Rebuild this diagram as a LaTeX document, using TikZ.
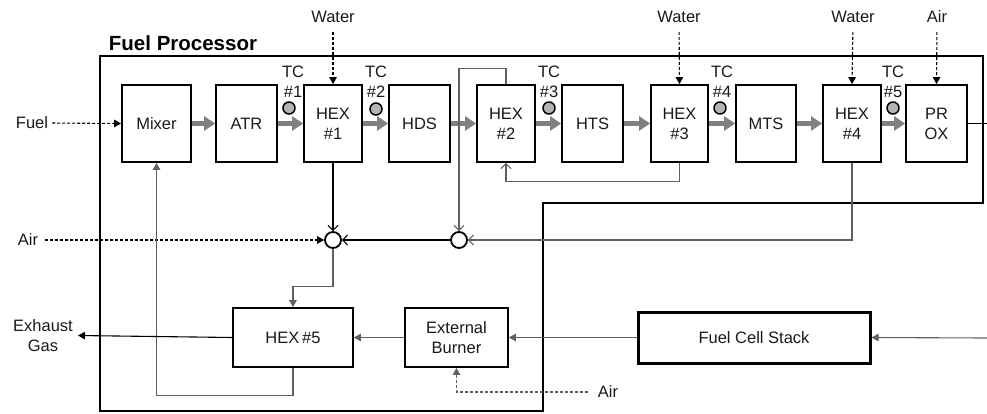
\documentclass[tikz,border=0pt]{standalone}
\usepackage{fontspec}
\setmainfont{Liberation Sans}
\usetikzlibrary{arrows.meta}
\definecolor{flowgray}{RGB}{128,128,128}
\definecolor{tcfill}{RGB}{180,180,180}
\definecolor{linegray}{RGB}{95,95,95}
\definecolor{txtc}{RGB}{25,25,25}
\begin{document}
\begin{tikzpicture}[x=1pt,y=-1pt,
  txt/.style={font=\fontsize{16.5}{20}\selectfont, text=txtc, align=center, inner sep=1pt},
  blk/.style={txt, draw, line width=1.8pt, minimum height=77pt, inner sep=0pt},
  blkb/.style={txt, draw, line width=1.8pt, minimum height=59pt, inner sep=0pt},
  tc/.style={circle, draw, line width=1.5pt, fill=tcfill, minimum size=12pt, inner sep=0pt},
  mixc/.style={circle, draw, line width=1.8pt, minimum size=16pt, inner sep=0pt, fill=white},
  flow/.style={draw=flowgray, line width=4.8pt, -{Triangle[length=11pt,width=14pt]}},
  fa/.style={line width=1.1pt, -{Triangle[length=7pt,width=7.5pt]}},
  ob/.style={line width=1.1pt, -{Straight Barb[length=5pt,width=10pt,line width=1pt]}},
  dsh/.style={dash pattern=on 3pt off 2pt},
]
\useasboundingbox (0,0) rectangle (987,413);

% Fuel processor boundary
\draw[line width=2.3pt] (100,56) -- (983,56) -- (983,203) -- (543,203) -- (543,411) -- (100,411) -- cycle;
\node[font=\bfseries\fontsize{20.5}{24}\selectfont, inner sep=0pt] (fp) at (183,43) {Fuel Processor};

% main row of blocks
\node[blk, minimum width=69pt] (mixer) at (156.5,123.5) {Mixer};
\node[blk, minimum width=61pt] (atr) at (246.5,123.5) {ATR};
\node[blk, minimum width=58pt] (hex1) at (333,123.5) {HEX\\\#1};
\node[blk, minimum width=61pt] (hds) at (419.5,123.5) {HDS};
\node[blk, minimum width=58pt] (hex2) at (506,123.5) {HEX\\\#2};
\node[blk, minimum width=61pt] (hts) at (592.5,123.5) {HTS};
\node[blk, minimum width=57pt] (hex3) at (679.5,123.5) {HEX\\\#3};
\node[blk, minimum width=60pt] (mts) at (766,123.5) {MTS};
\node[blk, minimum width=58pt] (hex4) at (852,123.5) {HEX\\\#4};
\node[blk, minimum width=61pt] (prox) at (936.5,123.5) {PR\\OX};

% lower blocks
\node[blkb, minimum width=120pt] (hex5) at (293,337.5) {HEX\,\#5};
\node[blkb, minimum width=103pt] (burner) at (456.5,337.5) {External\\Burner};
\node[txt, draw, line width=3pt, minimum width=232pt, minimum height=51pt, inner sep=0pt] (fcs) at (754,337.5) {Fuel Cell Stack};

% thermocouples
\node[txt] (tc1l) at (293,82) {TC\\\#1};
\node[tc] (tc1) at (289,108) {};
\node[txt] (tc2l) at (376,82) {TC\\\#2};
\node[tc] (tc2) at (376,109) {};
\node[txt] (tc3l) at (549,82) {TC\\\#3};
\node[tc] (tc3) at (549,108) {};
\node[txt] (tc4l) at (722,82) {TC\\\#4};
\node[tc] (tc4) at (720,108) {};
\node[txt] (tc5l) at (893,82) {TC\\\#5};
\node[tc] (tc5) at (893,108) {};

% mixing junctions
\node[mixc] (c1) at (333,240) {};
\node[mixc] (c2) at (459,240) {};

% external labels
\node[txt] (fuel) at (32,123) {Fuel};
\node[txt] (w1) at (333,17) {Water};
\node[txt] (w2) at (679,17) {Water};
\node[txt] (w3) at (853,17) {Water};
\node[txt] (airt) at (937,17) {Air};
\node[txt] (airl) at (28,240) {Air};
\node[txt] (airb) at (608,392) {Air};
\node[txt] (exh) at (43,335.5) {Exhaust\\Gas};
\coordinate (rout) at (987,123.5);
\coordinate (rin) at (987,338);

% main gray flow arrows
\draw[flow] (mixer.east) -- (atr.west);
\draw[flow] (atr.east) -- (hex1.west);
\draw[flow] (hex1.east) -- (hds.west);
\draw[flow] (hds.east) -- (hex2.west);
\draw[flow] (hex2.east) -- (hts.west);
\draw[flow] (hts.east) -- (hex3.west);
\draw[flow] (hex3.east) -- (mts.west);
\draw[flow] (mts.east) -- (hex4.west);
\draw[flow] (hex4.east) -- (prox.west);

% dashed inputs
\draw[fa, dsh, shorten <=3pt] (fuel.east) -- (mixer.west);
\draw[fa, dsh, shorten <=8pt] (w1.south) -- (hex1.north);
\draw[fa, dsh, shorten <=8pt] (w2.south) -- (hex3.north);
\draw[fa, dsh, shorten <=8pt] (w3.south) -- (hex4.north);
\draw[fa, dsh, shorten <=8pt] (airt.south) -- (prox.north);
\draw[fa, dsh, shorten <=6pt] (airl.east) -- (c1.west);
\draw[fa, dsh, draw=linegray, shorten <=9pt] (airb.west) -| (burner.south);

% heat exchanger loops
\draw[ob] (hex1.south) -- (c1.north);
\draw[ob, draw=linegray] (hex2.north) -- ++(0,-16) -| (c2.north);
\draw[ob, draw=linegray] (hex3.south) -- ++(0,19) -| (hex2.south);
\draw[ob, draw=linegray] (hex4.south) |- (c2.east);
\draw[ob] (c2.west) -- (c1.east);
\draw[fa, draw=linegray] (c1.south) -- ++(0,38) -| (hex5.north);
\draw[fa, draw=linegray] (hex5.south) -- ++(0,28) -| (mixer.south);
\draw[fa] (hex5.west) -- ([xshift=4pt]exh.east);
\draw[fa, draw=linegray] (burner.west) -- (hex5.east);
\draw[fa, draw=linegray] (fcs.west) -- (burner.east);
\draw[fa, draw=linegray] (rin) -- (fcs.east);
\draw[line width=1.1pt] (prox.east) -- (rout);
\end{tikzpicture}
\end{document}
